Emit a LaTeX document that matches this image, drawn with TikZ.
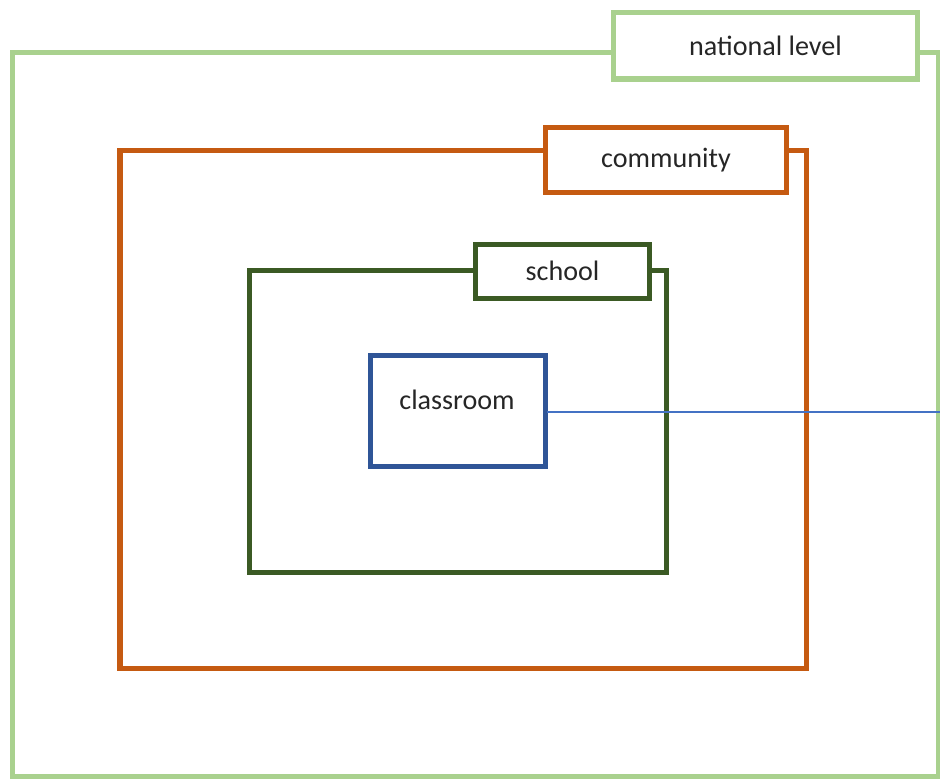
\documentclass[tikz,border=0pt]{standalone}
\usepackage{fontspec}
\setmainfont{Carlito}
\usetikzlibrary{positioning}

\definecolor{natgreen}{HTML}{A9D18E}
\definecolor{comorange}{HTML}{C55A11}
\definecolor{schgreen}{HTML}{3B5A24}
\definecolor{clsblue}{HTML}{2F5597}
\definecolor{linkblue}{HTML}{4472C4}

\tikzset{
  frame/.style={draw, line width=2.85pt, line join=miter},
  tag/.style={frame, fill=white, inner sep=0pt, font=\fontsize{16}{19}\selectfont, text=black!85},
}

\begin{document}
\begin{tikzpicture}[line cap=rect,x=0.02cm,y=-0.02cm]
				\useasboundingbox (0,0) rectangle (940,779);
				% levels, from outside in
				\draw [frame,natgreen] (12.5,52) rectangle (938.5,776);
				\node [tag,draw=natgreen,minimum width=6.1cm,minimum height=1.34cm] (national) at (765.5,45.5) {national level};
				\draw [frame,comorange] (120,150) rectangle (806,668);
				\node [tag,draw=comorange,minimum width=4.82cm,minimum height=1.29cm] (community) at (666,159.8) {community};
				\draw [frame,schgreen] (249.5,270) rectangle (666,572.5);
				\node [tag,draw=schgreen,minimum width=3.5cm,minimum height=1.08cm] (school) at (562.5,271) {school};
				\node [tag,draw=clsblue,minimum width=3.49cm,minimum height=2.21cm] (classroom) at (458.2,410.8) {};
				\node [font=\fontsize{16}{19}\selectfont,text=black!85] (classlabel) at (457,400) {classroom};
				% thin link to the right margin
				\coordinate (edge) at (940,412);
				\draw [linkblue,line width=0.8pt] (classroom.east |- edge) -- (edge);
			\end{tikzpicture}
\end{document}
